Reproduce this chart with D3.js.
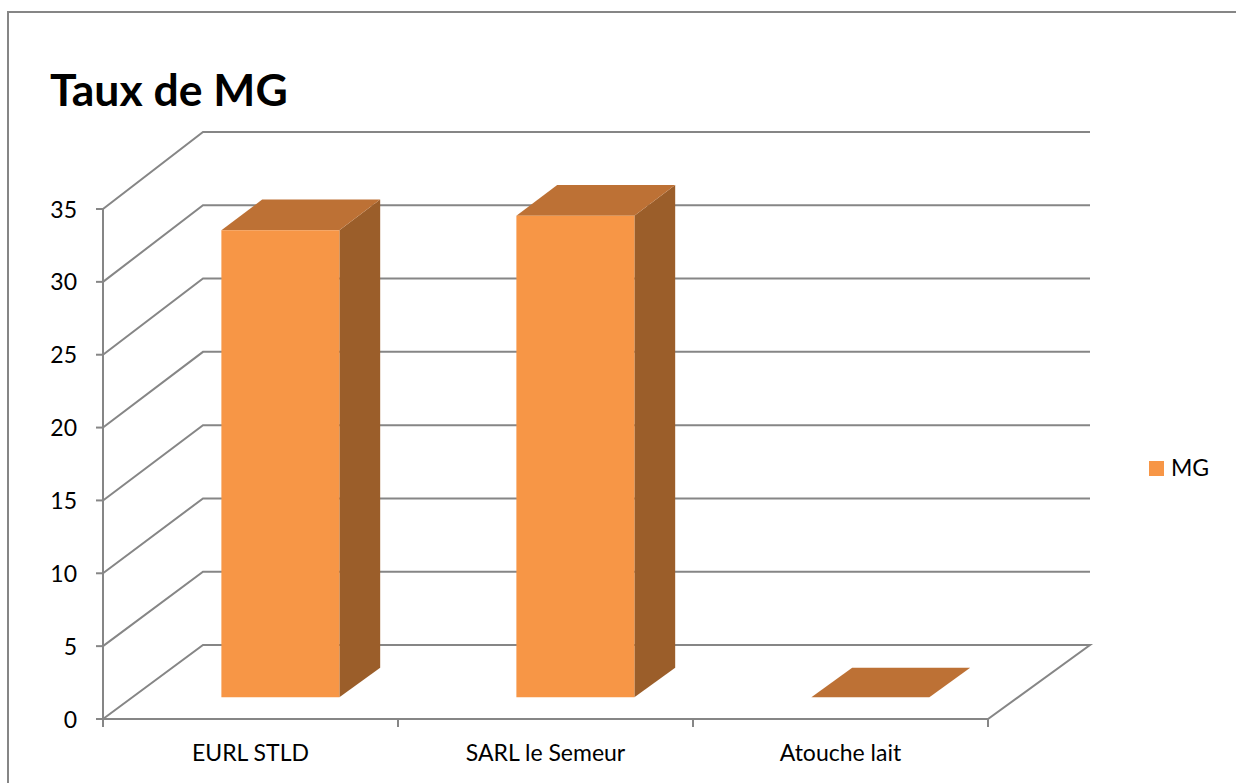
<!DOCTYPE html>
<html>
<head>
<meta charset="utf-8">
<script src="https://cdn.jsdelivr.net/npm/d3@7"></script>
<style>
  html, body { margin: 0; padding: 0; background: #fff; }
  svg { display: block; }
  text { font-family: Lato, "Noto Sans", sans-serif; fill: #000; }
</style>
</head>
<body>
<svg id="chart" width="1236" height="783"></svg>
<script>
// Chart data
const title = "Taux de MG";
const seriesName = "MG";
const categories = ["EURL STLD", "SARL le Semeur", "Atouche lait"];
const values = [32, 33, 0];
const yTicks = [0, 5, 10, 15, 20, 25, 30, 35];

const W = 1236, H = 783;
const svg = d3.select("#chart");

const gridColor = "#868686";
const frontColor = "#F79646";
const topColor = "#BD7135";
const sideColor = "#9B5E2A";

// 3D frame: front plane and back wall, with a shift in x for depth
const xLeft = 103, xRight = 988, depthDx = 102;
const yFront = d3.scaleLinear().domain([0, 35]).range([719, 209]);
const yBack = d3.scaleLinear().domain([0, 35]).range([645, 132]);
const depth = d3.scaleLinear().domain([0, 1]).range([0, depthDx]);

const x = d3.scaleBand()
  .domain(categories)
  .range([xLeft, xRight])
  .paddingInner(0.6)
  .paddingOuter(0.3);

// project a point given front-plane x, value and depth fraction (0 front, 1 back)
function P(px, v, d) {
  return [px + depth(d), yFront(v) * (1 - d) + yBack(v) * d];
}
const line = pts => "M" + pts.map(p => p.join(",")).join("L");

// outer frame
svg.append("rect")
  .attr("x", 8).attr("y", 12)
  .attr("width", W + 20).attr("height", H + 20)
  .attr("fill", "none")
  .attr("stroke", gridColor)
  .attr("stroke-width", 2);

// title
svg.append("text")
  .attr("x", 50).attr("y", 106)
  .attr("font-size", 44.5)
  .attr("font-weight", "bold")
  .text(title);

// gridlines along side wall and back wall
const grid = svg.append("g")
  .attr("fill", "none")
  .attr("stroke", gridColor)
  .attr("stroke-width", 2);

yTicks.filter(t => t > 0).forEach(t => {
  grid.append("path").attr("d", line([
    [xLeft, yFront(t)],
    [xLeft + depthDx - 2, yBack(t)],
    [1090, yBack(t)]
  ]));
});

// floor
grid.append("path").attr("d", line([
  [xLeft, yFront(0)],
  [xLeft + depthDx - 2, yBack(0)],
  [1090, yBack(0)],
  [xRight, yFront(0)],
  [xLeft, yFront(0)]
]));

// value axis line and ticks
grid.append("line")
  .attr("x1", xLeft).attr("x2", xLeft)
  .attr("y1", yFront(35)).attr("y2", yFront(0) + 8);
yTicks.forEach(t => {
  grid.append("line")
    .attr("x1", xLeft - 7).attr("x2", xLeft)
    .attr("y1", yFront(t)).attr("y2", yFront(t));
});

// category ticks at band boundaries
const boundaries = [xLeft].concat(categories.map((c, i) => xLeft + x.step() * (i + 1)));
boundaries.forEach(bx => {
  grid.append("line")
    .attr("x1", bx).attr("x2", bx)
    .attr("y1", yFront(0)).attr("y2", yFront(0) + 8);
});

// value labels
svg.append("g").selectAll("text")
  .data(yTicks)
  .join("text")
  .attr("x", 77)
  .attr("y", d => yFront(d) + 8.5)
  .attr("text-anchor", "end")
  .attr("font-size", 23)
  .text(d => d);

// category labels
svg.append("g").selectAll("text")
  .data(categories)
  .join("text")
  .attr("x", d => x(d) + x.bandwidth() / 2)
  .attr("y", 761)
  .attr("text-anchor", "middle")
  .attr("font-size", 23)
  .text(d => d);

// 3D columns
const d0 = 0.293, d1 = 0.693;
const bars = svg.append("g");
categories.forEach((c, i) => {
  const v = values[i];
  const x0 = x(c), x1 = x(c) + x.bandwidth();
  const g = bars.append("g");
  if (v > 0) {
    g.append("path")
      .attr("d", line([P(x1, 0, d0), P(x1, v, d0), P(x1, v, d1), P(x1, 0, d1)]) + "Z")
      .attr("fill", sideColor);
  }
  g.append("path")
    .attr("d", line([P(x0, v, d0), P(x1, v, d0), P(x1, v, d1), P(x0, v, d1)]) + "Z")
    .attr("fill", topColor);
  if (v > 0) {
    g.append("path")
      .attr("d", line([P(x0, 0, d0), P(x1, 0, d0), P(x1, v, d0), P(x0, v, d0)]) + "Z")
      .attr("fill", frontColor);
  }
});

// legend
const legend = svg.append("g");
legend.append("rect")
  .attr("x", 1149).attr("y", 461)
  .attr("width", 15).attr("height", 15)
  .attr("fill", frontColor);
legend.append("text")
  .attr("x", 1171).attr("y", 476)
  .attr("font-size", 23)
  .text(seriesName);
</script>
</body>
</html>
